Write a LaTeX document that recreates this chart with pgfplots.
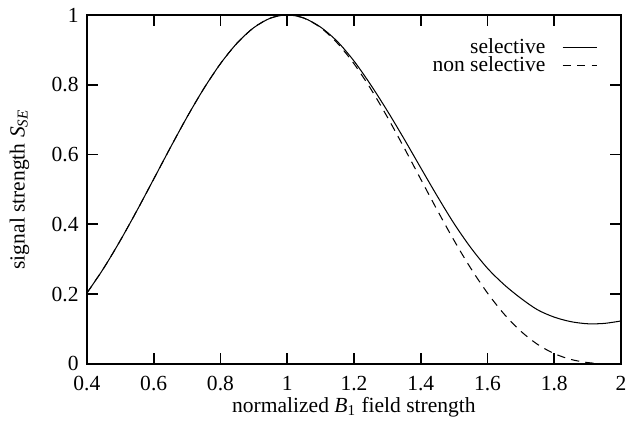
\documentclass[border=0pt]{standalone}
\usepackage{fontspec}
\setmainfont{Liberation Serif}
\usepackage{pgfplots}
\pgfplotsset{compat=1.18}
\begin{document}
\begin{tikzpicture}
\begin{axis}[
  scale only axis,
  width=258pt, height=168.6pt,
  xmin=0.4, xmax=2, ymin=0, ymax=1,
  xtick={0.4,0.6,0.8,1,1.2,1.4,1.6,1.8,2},
  xticklabels={0.4,0.6,0.8,1,1.2,1.4,1.6,1.8,2},
  ytick={0,0.2,0.4,0.6,0.8,1},
  yticklabels={0,0.2,0.4,0.6,0.8,1},
  tick align=inside,
  major tick length=5.3pt,
  tick style={black, line width=0.8pt},
  axis line style={line width=0.8pt},
  font=\fontsize{10.4}{12}\selectfont,
  /pgf/number format/assume math mode=true,
  xticklabel style={yshift=-2.5pt},
  yticklabel style={xshift=-0.5pt},
  xlabel={normalized \textit{B}\textsubscript{1} field strength},
  ylabel={signal strength \textit{S}\textsubscript{\textit{SE}}},
  xlabel style={yshift=4pt},
  ylabel style={yshift=4pt},
  legend style={draw=none, fill=none, at={(0.968,0.957)}, anchor=north east, row sep=-4pt,
    /tikz/every odd column/.append style={column sep=6pt}},
  legend cell align=right,
  legend plot pos=right,
  legend image code/.code={\draw[#1] (0pt,0pt) -- (16.5pt,0pt);},
  every axis plot/.append style={line width=0.5pt, black},
]
\addplot[smooth] coordinates {
(0.40,0.2031) (0.45,0.2739) (0.50,0.3536) (0.55,0.4397) (0.60,0.5295)
(0.65,0.6198) (0.70,0.7074) (0.75,0.7886) (0.80,0.8602) (0.85,0.9194)
(0.90,0.9635) (0.95,0.9908) (1.00,1.0000) (1.05,0.9910) (1.10,0.9650)
(1.15,0.9240) (1.20,0.8680) (1.25,0.8000) (1.30,0.7250) (1.35,0.6450)
(1.40,0.5620) (1.45,0.4800) (1.50,0.4020) (1.55,0.3330) (1.60,0.2740)
(1.65,0.2270) (1.70,0.1880) (1.75,0.1550) (1.80,0.1340) (1.85,0.1210)
(1.90,0.1150) (1.95,0.1160) (2.00,0.1230)
};
\addlegendentry{selective}
\addplot[smooth, dash pattern=on 4pt off 3pt] coordinates {
(0.40,0.2031) (0.45,0.2739) (0.50,0.3536) (0.55,0.4397) (0.60,0.5295)
(0.65,0.6198) (0.70,0.7074) (0.75,0.7886) (0.80,0.8602) (0.85,0.9194)
(0.90,0.9635) (0.95,0.9908) (1.00,1.0000) (1.05,0.9908) (1.10,0.9635)
(1.15,0.9194) (1.20,0.8602) (1.25,0.7886) (1.30,0.7074) (1.35,0.6198)
(1.40,0.5295) (1.45,0.4397) (1.50,0.3536) (1.55,0.2739) (1.60,0.2031)
(1.65,0.1426) (1.70,0.0936) (1.75,0.0560) (1.80,0.0295) (1.85,0.0127)
(1.90,0.0038) (1.95,0.0005) (2.00,0.0000)
};
\addlegendentry{non selective}
\end{axis}
\pgfresetboundingbox
\path (current axis.south west) ++(-42pt,-30.4pt) coordinate (bbsw);
\path (current axis.north east) ++(3.4pt,7.2pt) coordinate (bbne);
\path[use as bounding box] (bbsw) rectangle (bbne);
\end{tikzpicture}
\end{document}
